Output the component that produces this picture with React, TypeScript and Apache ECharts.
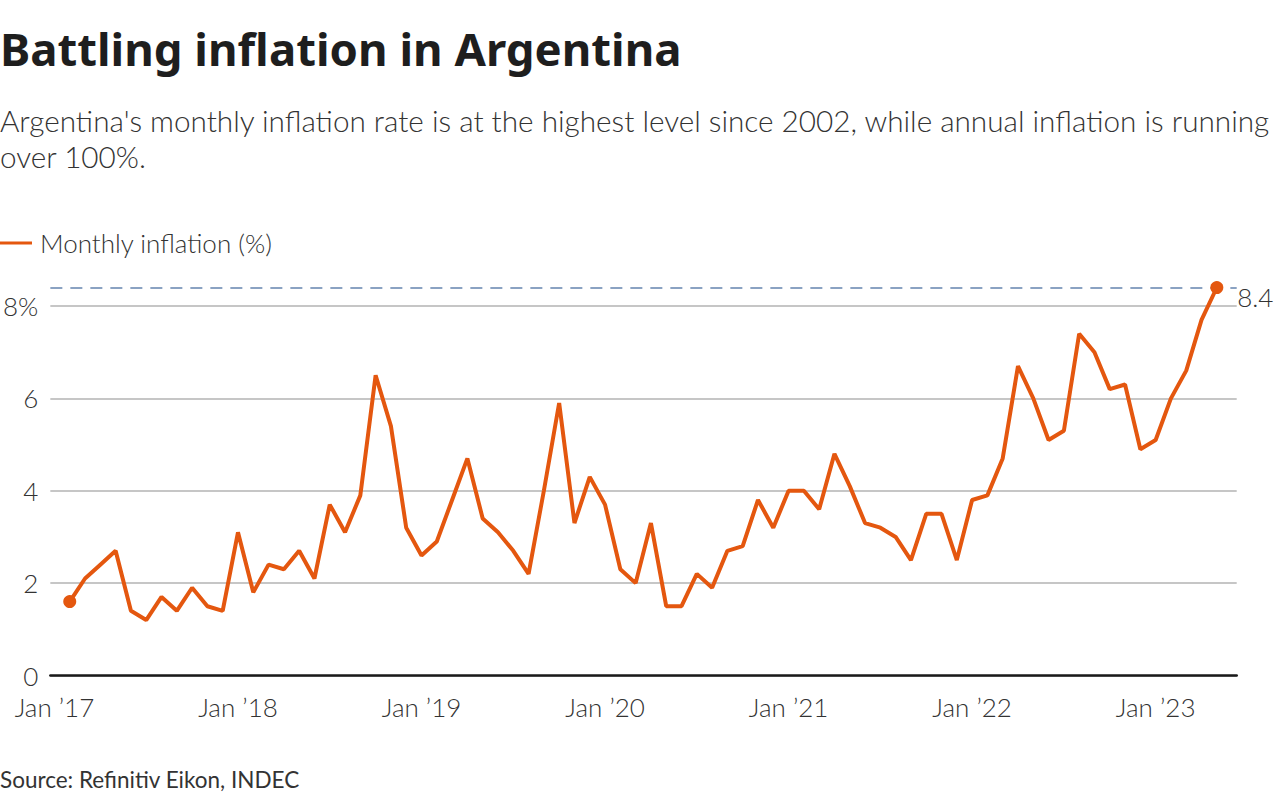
import React, { useEffect, useRef } from "react";
import * as echarts from "echarts";

// Monthly inflation (%), Jan 2017 – Apr 2023
const values: number[] = [
  1.6, 2.1, 2.4, 2.7, 1.4, 1.2, 1.7, 1.4, 1.9, 1.5, 1.4, 3.1, // 2017
  1.8, 2.4, 2.3, 2.7, 2.1, 3.7, 3.1, 3.9, 6.5, 5.4, 3.2, 2.6, // 2018
  2.9, 3.8, 4.7, 3.4, 3.1, 2.7, 2.2, 4.0, 5.9, 3.3, 4.3, 3.7, // 2019
  2.3, 2.0, 3.3, 1.5, 1.5, 2.2, 1.9, 2.7, 2.8, 3.8, 3.2, 4.0, // 2020
  4.0, 3.6, 4.8, 4.1, 3.3, 3.2, 3.0, 2.5, 3.5, 3.5, 2.5, 3.8, // 2021
  3.9, 4.7, 6.7, 6.0, 5.1, 5.3, 7.4, 7.0, 6.2, 6.3, 4.9, 5.1, // 2022
  6.0, 6.6, 7.7, 8.4, // 2023
];
const xLabels: string[] = ["Jan \u201917", "Jan \u201918", "Jan \u201919", "Jan \u201920", "Jan \u201921", "Jan \u201922", "Jan \u201923"];
const yTicks: number[] = [0, 2, 4, 6, 8];
const latestValue = 8.4;

const seriesName = "Monthly inflation (%)";
const ORANGE = "#e4570f";
const FONT = "Lato";
const X_MIN = -0.268;
const X_MAX = 77.3;

export default function App() {
  const ref = useRef<HTMLDivElement>(null);
  useEffect(() => {
    document.body.style.margin = "0";
    const chart = echarts.init(ref.current!, null, { renderer: "svg" });
    // each monthly value is plotted at the end of its month (month index + 1)
    const data = values.map((v, i) => {
      const item: any = { value: [i + 1, v] };
      if (i === 0 || i === values.length - 1) {
        item.symbol = "circle";
        item.symbolSize = 13;
      }
      return item;
    });
    const labelPositions = xLabels.map((_, i) => i * 12);
    const labelStyle = { fontFamily: FONT, fontWeight: 300, fontSize: 26, color: "#333" };
    chart.setOption({
      animation: false,
      grid: { left: 48.3, right: 51.3, top: 259.8, bottom: 124.5, containLabel: false },
      legend: {
        left: 0,
        top: 230,
        padding: 0,
        icon: "rect",
        itemWidth: 32,
        itemHeight: 3,
        textStyle: { ...labelStyle, lineHeight: 26, padding: [0, 0, 0, 3] },
        data: [seriesName],
      },
      graphic: [
        {
          id: "title",
          type: "text",
          x: 0,
          y: 47.5,
          style: {
            text: "Battling inflation in Argentina",
            font: `bold 45.5px "Noto Sans"`,
            fill: "#1e1e1e",
            verticalAlign: "middle",
          },
        },
        {
          id: "subtitle",
          type: "text",
          x: 0,
          y: 102.5,
          style: {
            text: "Argentina's monthly inflation rate is at the highest level since 2002, while annual inflation is running\nover 100%.",
            fontFamily: FONT,
            fontWeight: 300,
            fontSize: 29.7,
            lineHeight: 36,
            fill: "#333",
            verticalAlign: "top",
          },
        },
        {
          id: "source",
          type: "text",
          x: 0,
          y: 779.5,
          style: {
            text: "Source: Refinitiv Eikon, INDEC",
            fontFamily: FONT,
            fontWeight: 400,
            fontSize: 22.5,
            fill: "#333",
            verticalAlign: "middle",
          },
        },
      ],
      xAxis: {
        type: "value",
        min: X_MIN,
        max: X_MAX,
        axisLine: { show: true, onZero: true, lineStyle: { color: "#1a1a1a", width: 2.5 } },
        axisTick: { show: false },
        splitLine: { show: false },
        axisLabel: {
          customValues: labelPositions,
          formatter: (v: number) => {
            const idx = Math.round(v / 12);
            return Math.abs(v - idx * 12) < 1e-6 && xLabels[idx] ? xLabels[idx] : "";
          },
          margin: 18,
          lineHeight: 26,
          ...labelStyle,
        },
      },
      yAxis: {
        type: "value",
        min: 0,
        max: 9,
        interval: 2,
        axisLine: { show: false },
        axisTick: { show: false },
        splitLine: {
          show: true,
          showMaxLine: false,
          lineStyle: {
            color: ["#c6c6c6", "#c6c6c6", "#c6c6c6", "#c6c6c6", "#c6c6c6", "rgba(0,0,0,0)"],
            width: 2,
          },
        },
        axisLabel: {
          margin: 12,
          formatter: (v: number) => (yTicks.indexOf(v) === -1 ? "" : v === yTicks[yTicks.length - 1] ? `${v}%` : String(v)),
          lineHeight: 20,
          ...labelStyle,
        },
      },
      series: [
        {
          name: seriesName,
          type: "line",
          data,
          symbol: "none",
          showAllSymbol: true,
          z: 3,
          lineStyle: { color: ORANGE, width: 4 },
          itemStyle: { color: ORANGE },
          markLine: {
            silent: true,
            symbol: "none",
            lineStyle: { type: [12, 8], color: "#8aa2c2", width: 2 },
            label: { show: false },
            data: [{ yAxis: latestValue }],
            z: 2,
          },
        },
      ],
    });
    // value label for the reference line, placed through the chart's own scales
    const [px, py] = chart.convertToPixel({ gridIndex: 0 }, [X_MAX, latestValue]) as number[];
    chart.setOption({
      graphic: [
        {
          id: "latestLabel",
          type: "text",
          x: px + 0.5,
          y: py + 9,
          style: {
            text: String(latestValue),
            ...labelStyle,
            fill: "#333",
            align: "left",
            verticalAlign: "middle",
          },
        },
      ],
    });
    return () => chart.dispose();
  }, []);
  return <div ref={ref} style={{ width: 1288, height: 800 }} />;
}
